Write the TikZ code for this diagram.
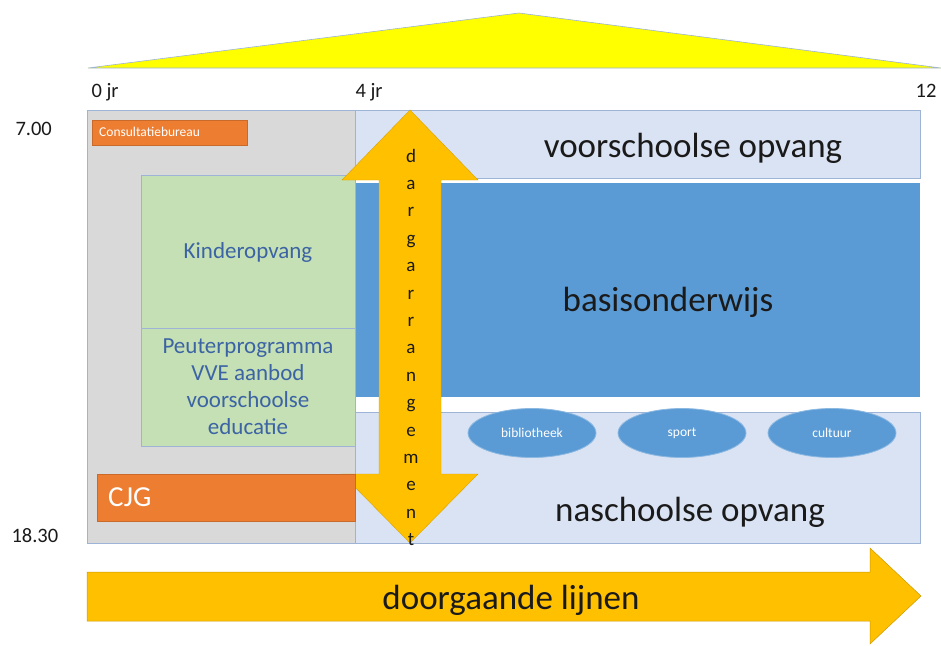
\documentclass[tikz,border=0pt]{standalone}
\usepackage{fontspec}
\setmainfont{Carlito}
\usetikzlibrary{shapes.geometric}
\definecolor{greyfill}{HTML}{D9D9D9}
\definecolor{lightblue}{HTML}{DAE3F3}
\definecolor{midblue}{HTML}{5B9BD5}
\definecolor{edgeblue}{HTML}{9DB4D6}
\definecolor{orangeC}{HTML}{ED7D31}
\definecolor{goldC}{HTML}{FFC000}
\definecolor{yellowC}{HTML}{FFFF00}
\definecolor{greenC}{HTML}{C5E0B4}
\definecolor{textblue}{HTML}{3C64A4}
\definecolor{darktext}{HTML}{1A1A1A}
\tikzset{
  box/.style={draw=edgeblue, line width=0.9pt, inner sep=0pt, anchor=north west},
  orangebox/.style={fill=orangeC, draw=orangeC!85!black, line width=0.4pt, inner sep=0pt, anchor=north west},
  oval/.style={ellipse, fill=midblue, draw=midblue!70!white, line width=0.8pt, minimum width=128pt, minimum height=49pt, inner sep=0pt, text=white, font=\fontsize{13.5}{15}\selectfont},
  bigtext/.style={font=\fontsize{35}{38}\selectfont, text=darktext},
  axis/.style={font=\fontsize{20.5}{22}\selectfont, text=darktext, anchor=base west},
  greentext/.style={font=\fontsize{23}{27}\selectfont, text=textblue, align=center},
  letter/.style={font=\fontsize{19}{21}\selectfont, text=darktext, anchor=base}
}
\begin{document}
\begin{tikzpicture}[x=1pt,y=-1pt]
\useasboundingbox (0,0) rectangle (941,645);
% yellow triangle
\fill[yellowC, draw=edgeblue, line width=0.6pt] (88,68) -- (519,13) -- (941,68) -- cycle;
% axis labels
\node[axis] (l0) at (88,97) {0 jr};
\node[axis] (l4) at (352,97) {4 jr};
\node[axis, anchor=base east] (l12) at (940,97) {12};
\node[axis] (t700) at (12,135) {7.00};
\node[axis] (t1830) at (8,542) {18.30};
% left grey column
\node[box, fill=greyfill, minimum width=268pt, minimum height=433pt] (grey) at (87,110) {};
% right area
\node[box, fill=lightblue, minimum width=565pt, minimum height=68pt] (voor) at (355,110) {};
\node[box, fill=lightblue, minimum width=565pt, minimum height=131pt] (na) at (355,412) {};
\node[anchor=north west, fill=midblue, minimum width=565pt, minimum height=214pt, inner sep=0pt] (basis) at (355,183) {};
% green boxes
\node[box, fill=greenC, minimum width=214pt, minimum height=153pt] (kinder) at (141,175) {};
\node[box, fill=greenC, minimum width=214pt, minimum height=118pt] (peuter) at (141,328) {};
% ovals
\node[oval] (bib) at (532,433) {bibliotheek};
\node[oval] (sport) at (682,433) {sport};
\node[oval] (cult) at (832,433) {cultuur};
% big texts
\node[bigtext] at (693,148) {voorschoolse opvang};
\node[bigtext] at (668,302) {basisonderwijs};
\node[bigtext] at (690,512) {naschoolse opvang};
\node[greentext] at (248,252) {Kinderopvang};
\node[greentext] at (248,387) {Peuterprogramma\\VVE aanbod\\voorschoolse\\educatie};
% consultatiebureau
\node[orangebox, minimum width=155pt, minimum height=25pt] (consult) at (92,120) {};
\node[anchor=west, text=white, font=\fontsize{13.5}{15}\selectfont, inner sep=0pt] at (99,132) {Consultatiebureau};
% vertical double arrow
\fill[goldC, draw=goldC!85!black, line width=0.4pt] (410,110) -- (478,180) -- (441,180) -- (441,474) -- (478,474) -- (410,543) -- (342,474) -- (379,474) -- (379,180) -- (342,180) -- cycle;
\foreach \ch [count=\i from 0] in {d,a,r,g,a,r,r,a,n,g,e,m,e,n,t}
  \node[letter] at (411,{162+27.4*\i}) {\ch};
% CJG
\node[orangebox, minimum width=258pt, minimum height=47pt] (cjg) at (97,474) {};
\node[anchor=west, text=white, font=\fontsize{29}{32}\selectfont, inner sep=0pt] at (108,497) {CJG};
% bottom arrow
\fill[goldC, draw=goldC!80!black, line width=0.5pt] (87,572) -- (870,572) -- (870,548) -- (921,596) -- (870,644) -- (870,621) -- (87,621) -- cycle;
\node[font=\fontsize{35}{38}\selectfont, text=darktext] (doorg) at (511,600) {doorgaande lijnen};
\end{tikzpicture}
\end{document}
